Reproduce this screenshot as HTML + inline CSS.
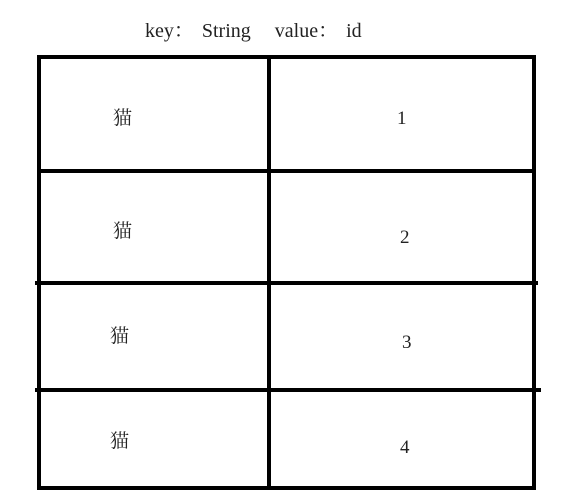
<!DOCTYPE html>
<html><head><meta charset="utf-8"><style>
html,body{margin:0;padding:0;background:#fff;}
body{width:565px;height:503px;position:relative;overflow:hidden;font-family:"Liberation Serif","Noto Serif CJK SC",serif;color:#222;}
.l{position:absolute;background:#000;}
.t{position:absolute;font-size:19px;line-height:22px;}
</style></head><body>
<div class="t" style="left:145px;top:20px;font-size:20px;word-spacing:3px;white-space:nowrap;">key：&nbsp;String&nbsp;&nbsp;&nbsp;value：&nbsp;id</div>
<div class="l" style="left:37px;top:55px;width:499px;height:4px;"></div>
<div class="l" style="left:37px;top:55px;width:4px;height:435px;"></div>
<div class="l" style="left:532px;top:55px;width:4px;height:435px;"></div>
<div class="l" style="left:267px;top:55px;width:4px;height:435px;"></div>
<div class="l" style="left:37px;top:486px;width:499px;height:4px;"></div>
<div class="l" style="left:37px;top:169px;width:499px;height:4px;"></div>
<div class="l" style="left:35px;top:281px;width:503px;height:4px;"></div>
<div class="l" style="left:35px;top:388px;width:506px;height:4px;"></div>
<div class="t" style="left:113px;top:108px;">猫</div>
<div class="t" style="left:113px;top:221px;">猫</div>
<div class="t" style="left:110px;top:326px;">猫</div>
<div class="t" style="left:110px;top:431px;">猫</div>
<div class="t" style="left:397px;top:108px;">1</div>
<div class="t" style="left:400px;top:227px;">2</div>
<div class="t" style="left:402px;top:332px;">3</div>
<div class="t" style="left:400px;top:437px;">4</div>
</body></html>
